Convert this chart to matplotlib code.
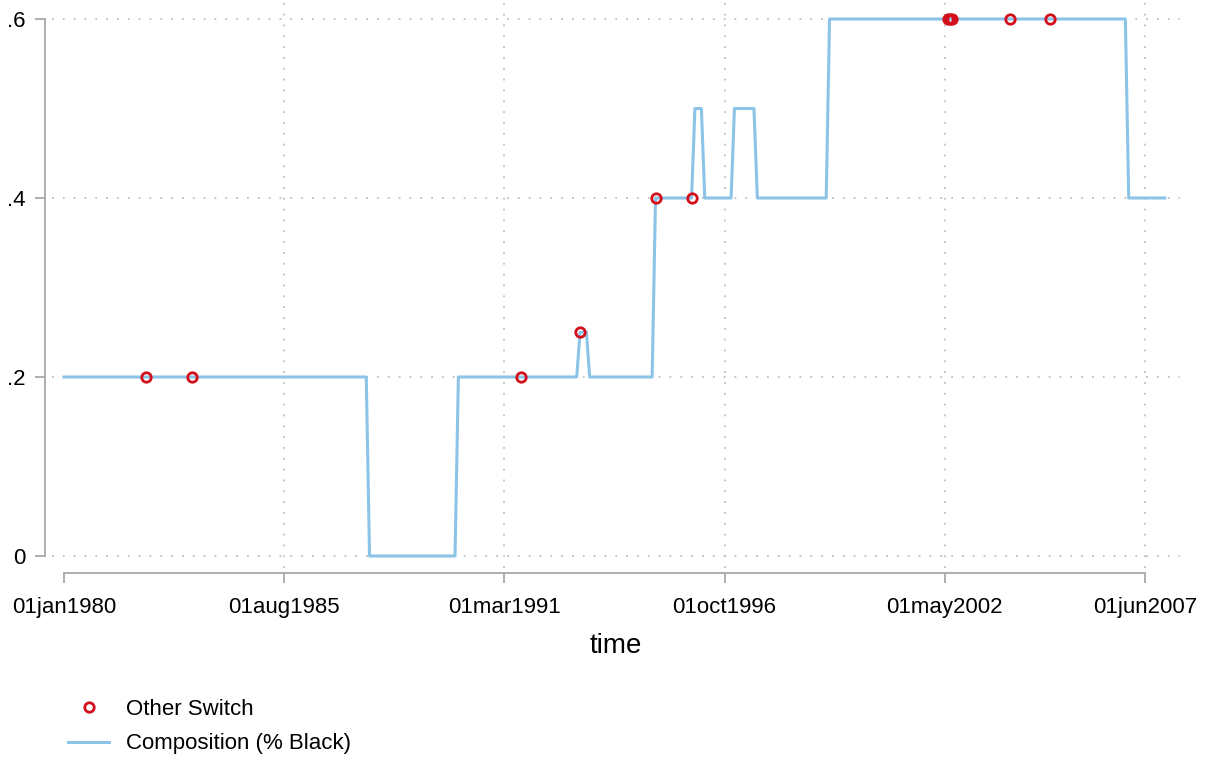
import pandas as pd
import matplotlib
matplotlib.use("Agg")
import matplotlib.pyplot as plt
import matplotlib.dates as mdates

plt.rcParams['font.family'] = ['Liberation Sans', 'DejaVu Sans']

# composition series, vertices of the line (monthly dates)
comp_dates = ['1980-01-01', '1987-09-01', '1987-10-01', '1989-12-01', '1990-01-01',
              '1993-01-01', '1993-02-01', '1993-04-01', '1993-05-01',
              '1994-12-01', '1995-01-01', '1995-12-01', '1996-01-01',
              '1996-03-01', '1996-04-01', '1996-12-01', '1997-01-01',
              '1997-07-01', '1997-08-01', '1999-05-01', '1999-06-01',
              '2006-12-01', '2007-01-01', '2007-12-01']
comp_values = [.2, .2, 0, 0, .2,
               .2, .25, .25, .2,
               .2, .4, .4, .5,
               .5, .4, .4, .5,
               .5, .4, .4, .6,
               .6, .4, .4]

# other switch events
switch_dates = ['1982-02-01', '1983-04-01', '1991-08-01', '1993-02-01',
                '1995-01-01', '1995-12-01', '2002-06-01', '2002-06-20',
                '2002-07-10', '2004-01-01', '2005-01-01']
switch_values = [.2, .2, .2, .25, .4, .4, .6, .6, .6, .6, .6]

tick_dates = ['1980-01-01', '1985-08-01', '1991-03-01', '1996-10-01',
              '2002-05-01', '2007-06-01']
tick_labels = ['01jan1980', '01aug1985', '01mar1991', '01oct1996',
               '01may2002', '01jun2007']

comp_dates = pd.to_datetime(comp_dates)
switch_dates = pd.to_datetime(switch_dates)
tick_dates = pd.to_datetime(tick_dates)

fig = plt.figure(figsize=(12.08, 7.57), dpi=100)
ax = fig.add_axes([52/1208, 1-568/757, (1180-52)/1208, (568-2)/757])

line_col = '#8cc4e8'
red = '#d2101c'
gray = '#a8a8a8'

# grid
for v in [0, .2, .4, .6]:
    ax.axhline(v, color='#c0c0c0', lw=1.3, ls=(0, (1, 5)), zorder=0)
for d in tick_dates[1:]:
    ax.axvline(d, color='#c0c0c0', lw=1.3, ls=(0, (1, 5)), zorder=0)

ln, = ax.plot(comp_dates, comp_values, color=line_col, lw=2.2, zorder=2,
              label='Composition (% Black)')
sc, = ax.plot(switch_dates, switch_values, 'o', mfc='none', mec=red, mew=2,
              ms=6.8, zorder=3, label='Other Switch')

x0 = pd.Timestamp('1980-01-01')
ax.set_xlim(x0 - pd.Timedelta(days=111), x0 + pd.Timedelta(days=10337))
ax.set_ylim(-12/895, .6 + 17/895)

ax.set_xticks(tick_dates)
ax.set_xticklabels(tick_labels)
ax.set_yticks([0, .2, .4, .6])
ax.set_yticklabels(['0', '.2', '.4', '.6'])

for s in ['top', 'right']:
    ax.spines[s].set_visible(False)
ax.spines['left'].set_position(('outward', 5))
ax.spines['bottom'].set_position(('outward', 3.6))
ax.spines['left'].set_bounds(0, .6)
ax.spines['bottom'].set_bounds(mdates.date2num(tick_dates[0]), mdates.date2num(tick_dates[-1]))
for s in ['left', 'bottom']:
    ax.spines[s].set_color(gray)
    ax.spines[s].set_linewidth(1.3)
ax.tick_params(colors=gray, labelcolor='black', length=7, width=1.3,
               labelsize=16)
ax.tick_params(axis='x', pad=10)
ax.tick_params(axis='y', pad=7)

ax.set_xlabel('time', fontsize=20, labelpad=11)

fig.legend(handles=[sc, ln], loc='upper left', bbox_to_anchor=(68/1208, 1-699/757),
           frameon=False, fontsize=16, handlelength=1.85, handletextpad=0.75,
           labelspacing=0.6, borderpad=0, borderaxespad=0)

fig.savefig('out.png', dpi=100, facecolor='white')
